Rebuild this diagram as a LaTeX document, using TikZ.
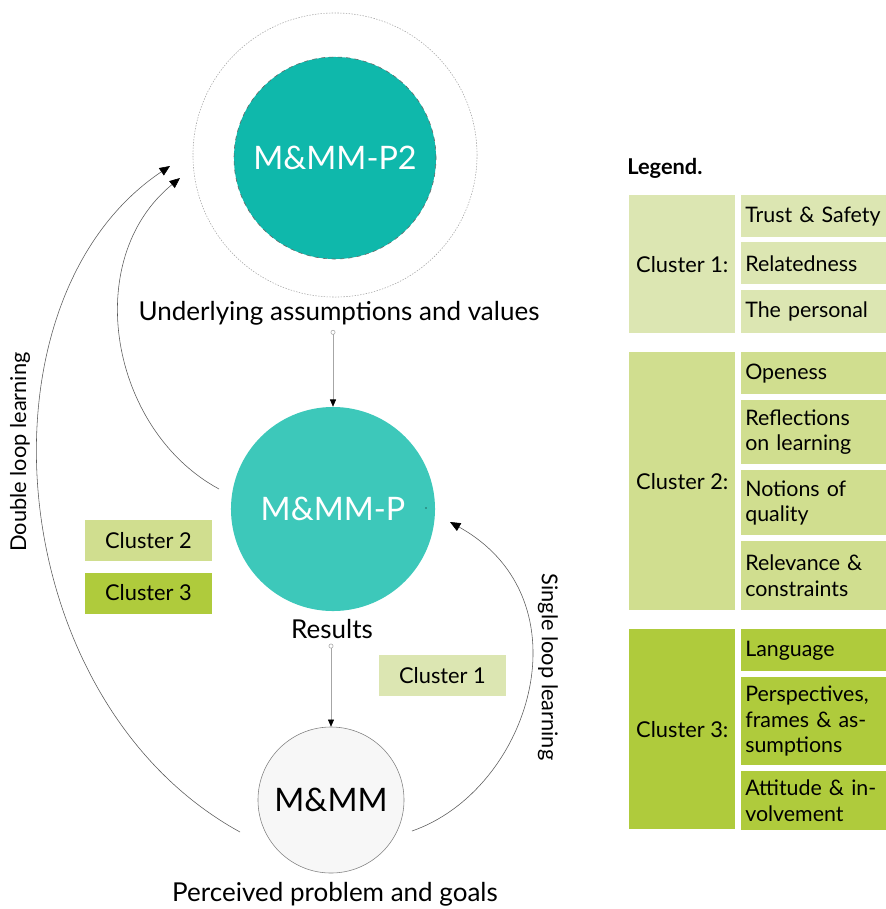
\documentclass[tikz,border=0pt]{standalone}
\usepackage{fontspec}
\setmainfont{Lato}
\usepackage{xcolor}
\usetikzlibrary{
    positioning,
    arrows.meta,
    shapes.geometric,
    calc,
}
\definecolor{tealdark}{HTML}{0FB8AB}
\definecolor{teallight}{HTML}{3DC8BA}
\definecolor{greyfill}{HTML}{F7F7F7}
\definecolor{clusterone}{HTML}{DCE6B2}
\definecolor{clustertwo}{HTML}{D0DE8F}
\definecolor{clusterthree}{HTML}{AFCB3C}

\begin{document}
\begin{tikzpicture}[
    x=0.025cm, y=-0.025cm,
    bigtext/.style={font=\fontsize{18.5}{22}\selectfont},
    smalltext/.style={font=\fontsize{15.5}{18}\selectfont},
    stage/.style={circle, inner sep=0pt, font=\fontsize{23}{26}\selectfont},
    tag/.style={rectangle, minimum width=3.175cm, minimum height=1.025cm, smalltext},
    clusterbox/.style={rectangle, anchor=north west, minimum width=2.65cm, align=center, smalltext},
    itembox/.style={rectangle, anchor=north west, text width=3.425cm, inner xsep=0.1cm,
                    inner ysep=0pt, align=left, font=\fontsize{15.2}{18}\selectfont},
    flow/.style={{Circle[open, length=1.2mm]}-{Triangle[length=1.8mm, width=1.5mm, color=black]}, gray!70},
    loopline/.style={-{Triangle[length=2.6mm, width=2.2mm, color=black]}, gray!70!black, thin},
]
    \useasboundingbox (0,0) rectangle (886,909);

    % Circles
    \node[stage, minimum size=7.1cm, draw=gray!70, dash pattern=on 1pt off 1pt] (ring) at (335,155) {};
    \node[stage, minimum size=5.05cm, fill=tealdark, draw=black!60, dashed, text=white] (mmp2) at (335,158) {M\&MM-P2};
    \node[stage, minimum size=5.1cm, fill=teallight, text=white] (mmp) at (333,509) {M\&MM-P};
    \node[stage, minimum size=3.65cm, fill=greyfill, draw=gray] (mmm) at (331,800) {M\&MM};
    \fill (426,508) circle[radius=0.5pt];

    % Captions
    \node[bigtext] (assume) at (339,313) {Underlying assumptions and values};
    \node[bigtext] (results) at (332,629) {Results};
    \node[bigtext] (perceived) at (335,894) {Perceived problem and goals};

    % Down arrows
    \draw[flow] (assume.south -| mmp.north) -- (mmp.north);
    \draw[flow] (results.south -| mmm.north) -- (mmm.north);

    % Loops
    \coordinate (dlstart) at (240,832);
    \coordinate (dlend) at (170,166);
    \coordinate (dlstart2) at (219,489);
    \coordinate (dlend2) at (180,178);
    \coordinate (slstart) at (412,831);
    \coordinate (slend) at (450,522);
    \draw[loopline] (dlstart) .. controls (0,700) and (-30,300) .. (dlend);
    \draw[loopline] (dlstart2) .. controls (110,430) and (80,260) .. (dlend2);
    \draw[loopline] (slstart) .. controls (530,790) and (590,600) .. (slend);
    \node[smalltext, rotate=90] (double) at (20,452) {Double loop learning};
    \node[smalltext, rotate=-90] (single) at (548,667) {Single loop learning};

    % Cluster tags
    \node[tag, fill=clustertwo] (ctwo) at (148.5,540.5) {Cluster 2};
    \node[tag, fill=clusterthree] (cthree) at (148.5,593) {Cluster 3};
    \node[tag, fill=clusterone] (cone) at (442.5,675.5) {Cluster 1};

    % Legend
    \node[anchor=west, inner sep=0pt, font=\bfseries\fontsize{15.5}{18}\selectfont] (legend) at (627,168) {Legend.};

    \node[clusterbox, fill=clusterone, minimum height=3.45cm] (cl1) at (629,195) {Cluster 1:};
    \node[itembox, fill=clusterone, minimum height=1.05cm] (trust) at (741,195) {Trust \& Safety};
    \node[itembox, fill=clusterone, minimum height=1.05cm] (related) at (741,242) {Relatedness};
    \node[itembox, fill=clusterone, minimum height=1.075cm] (personal) at (741,290) {The personal};

    \node[clusterbox, fill=clustertwo, minimum height=6.45cm] (cl2) at (629,352) {Cluster 2:};
    \node[itembox, fill=clustertwo, minimum height=1.05cm] (open) at (741,352) {Openess};
    \node[itembox, fill=clustertwo, minimum height=1.6cm] (reflect) at (741,400) {Reflections\\on learning};
    \node[itembox, fill=clustertwo, minimum height=1.625cm] (notions) at (741,470) {Notions of\\quality};
    \node[itembox, fill=clustertwo, minimum height=1.725cm] (relevance) at (741,541) {Relevance \&\\constraints};

    \node[clusterbox, fill=clusterthree, minimum height=5cm] (cl3) at (629,629) {Cluster 3:};
    \node[itembox, fill=clusterthree, minimum height=1.05cm] (language) at (741,629) {Language};
    \node[itembox, fill=clusterthree, minimum height=2.2cm] (persp) at (741,677) {Perspectives,\\frames \& as-\\sumptions};
    \node[itembox, fill=clusterthree, minimum height=1.475cm] (attitude) at (741,771) {Attitude \& in-\\volvement};
\end{tikzpicture}
\end{document}
